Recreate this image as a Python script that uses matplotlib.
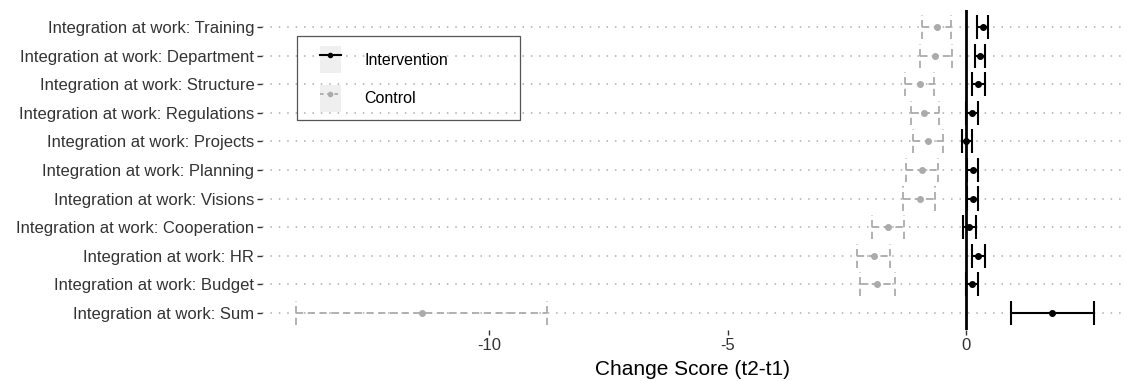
import matplotlib.pyplot as plt
from matplotlib.lines import Line2D
from matplotlib.patches import Rectangle

plt.rcParams['font.family'] = ['Liberation Sans', 'DejaVu Sans']

items = ["Training", "Department", "Structure", "Regulations", "Projects",
         "Planning", "Visions", "Cooperation", "HR", "Budget", "Sum"]
labels = ["Integration at work: " + s for s in items]

# intervention group: mean change and interval
int_mean = [0.35, 0.29, 0.25, 0.11, 0.00, 0.14, 0.14, 0.06, 0.24, 0.11, 1.80]
int_lo = [0.23, 0.17, 0.11, -0.01, -0.10, 0.02, 0.02, -0.07, 0.11, -0.01, 0.94]
int_hi = [0.45, 0.39, 0.40, 0.24, 0.11, 0.24, 0.24, 0.21, 0.38, 0.24, 2.68]

# control group
ctl_mean = [-0.62, -0.66, -0.98, -0.88, -0.80, -0.93, -0.98, -1.65, -1.94, -1.87, -11.39]
ctl_lo = [-0.93, -0.98, -1.29, -1.17, -1.12, -1.26, -1.33, -1.98, -2.29, -2.22, -14.03]
ctl_hi = [-0.32, -0.31, -0.67, -0.57, -0.50, -0.60, -0.66, -1.30, -1.59, -1.49, -8.79]

xticks = [-10, -5, 0]

n = len(items)
y = [n - 1 - i for i in range(n)]
cap = 0.42
gray = '#ababab'
dash = (0, (4, 2.5))

fig = plt.figure(figsize=(11.24, 3.81), dpi=100)
ax = fig.add_axes([0.233, 0.134, 0.767, 0.84])

# dotted horizontal guides
for yy in y:
    ax.axhline(yy, color='#adadad', lw=1.1, ls=(0, (1, 4.5)), zorder=1)

ax.axvline(0, color='black', lw=2, zorder=2)

# control
ax.hlines(y, ctl_lo, ctl_hi, color=gray, lw=1.3, linestyles=dash, zorder=3)
ax.vlines(ctl_lo, [v - cap for v in y], [v + cap for v in y], color=gray, lw=1.3, linestyles=dash, zorder=3)
ax.vlines(ctl_hi, [v - cap for v in y], [v + cap for v in y], color=gray, lw=1.3, linestyles=dash, zorder=3)
ax.plot(ctl_mean, y, 'o', color=gray, ms=4, zorder=4)

# intervention
ax.hlines(y, int_lo, int_hi, color='black', lw=1.5, zorder=5)
ax.vlines(int_lo, [v - cap for v in y], [v + cap for v in y], color='black', lw=1.5, zorder=5)
ax.vlines(int_hi, [v - cap for v in y], [v + cap for v in y], color='black', lw=1.5, zorder=5)
ax.plot(int_mean, y, 'o', color='black', ms=4, zorder=6)

ax.set_xlim(-14.75, 3.3)
ax.set_ylim(-0.6, n - 0.4)
ax.set_yticks(y)
ax.set_yticklabels(labels)
ax.set_xticks(xticks)
ax.set_xticklabels([str(t) for t in xticks])
ax.tick_params(axis='both', length=3.5, width=1, color='#333333', labelcolor='#333333',
               labelsize=12, pad=2)
for s in ax.spines.values():
    s.set_visible(False)
ax.set_xlabel('Change Score (t2-t1)', fontsize=15, color='black', labelpad=5)

# legend box
fig.patches.append(Rectangle((297 / 1124, 1 - 120 / 381), 223 / 1124, 84 / 381,
                             transform=fig.transFigure, fill=False,
                             edgecolor='#555555', lw=0.9, zorder=10))

key_bg = dict(facecolor='#efefef', edgecolor='none')
h_int = (Rectangle((0, 0), 1, 1, **key_bg),
         Line2D([], [], color='black', lw=1.5, marker='o', ms=3))
h_ctl = (Rectangle((0, 0), 1, 1, **key_bg),
         Line2D([], [], color=gray, lw=1.3, ls=(0, (2, 2)), marker='o', ms=3))
leg = fig.legend([h_int, h_ctl], ['Intervention', 'Control'], loc='upper left',
                 bbox_to_anchor=(320 / 1124, 1 - 46 / 381),
                 fontsize=11.5, frameon=False,
                 handlelength=1.3, handleheight=2.25, labelspacing=0.72,
                 borderpad=0, handletextpad=1.5, borderaxespad=0)

plt.savefig('out.png', dpi=100)
